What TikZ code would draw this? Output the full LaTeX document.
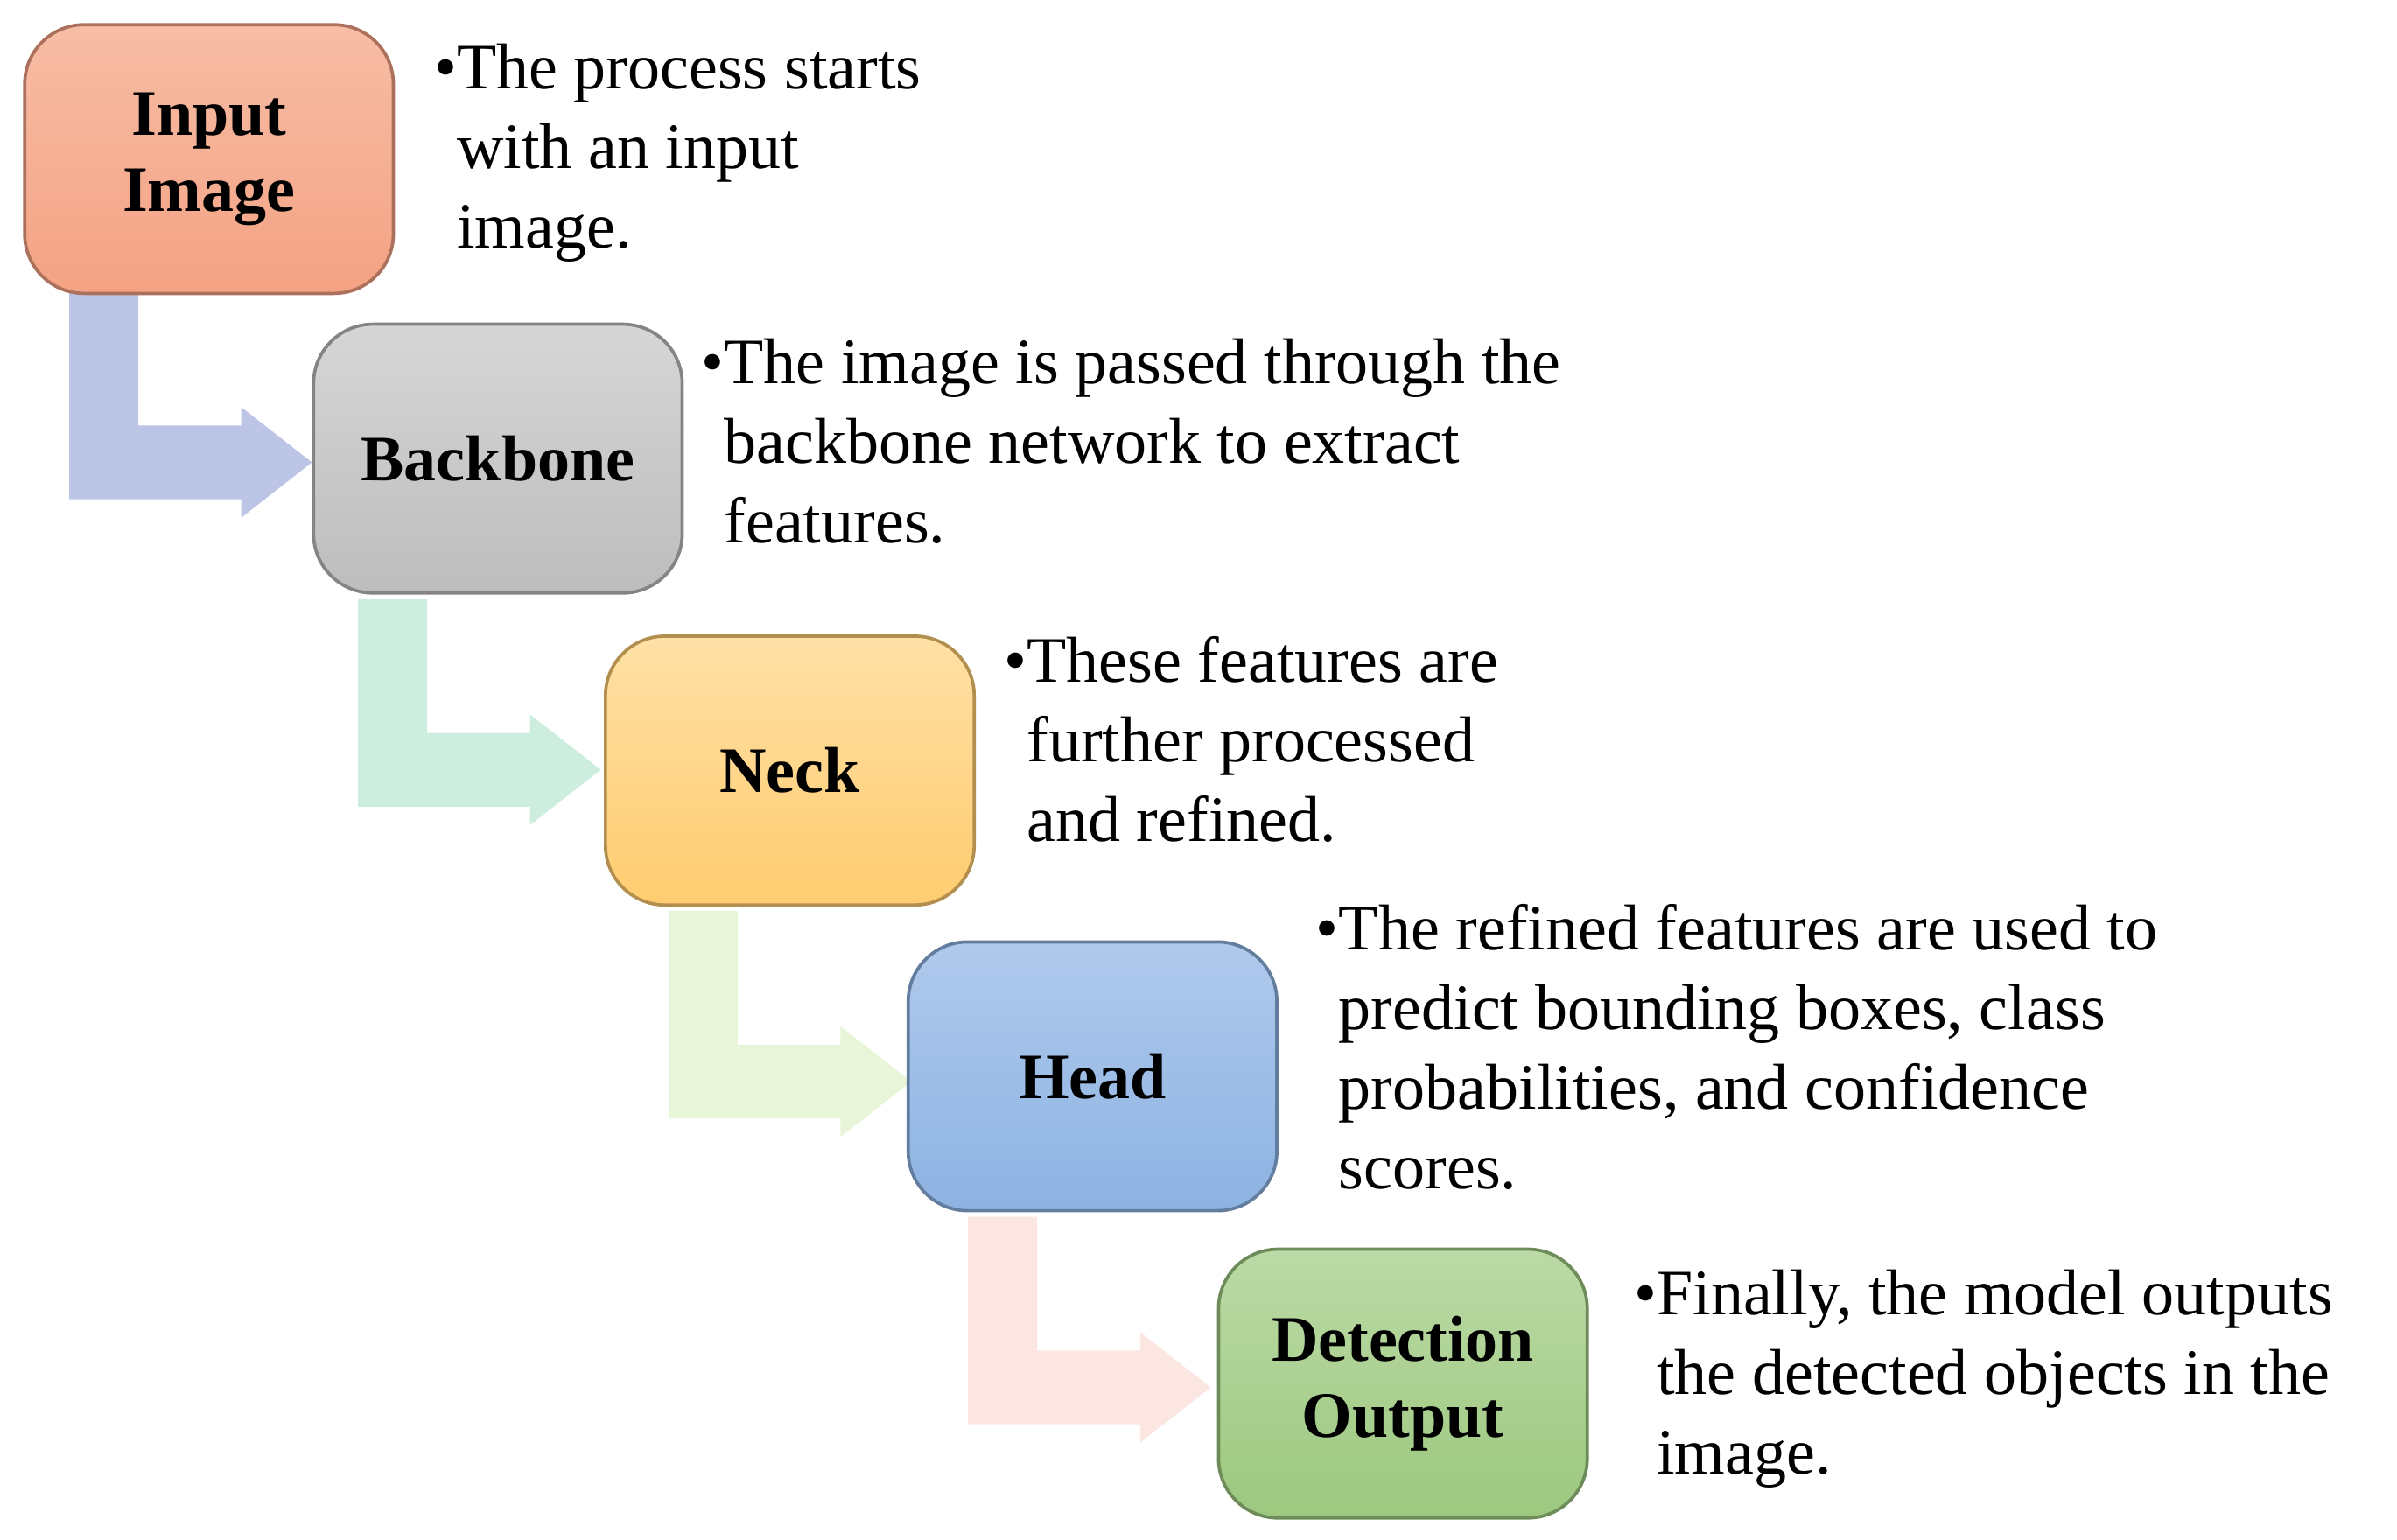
\documentclass[tikz,border=0pt]{standalone}
\usepackage{fontspec}
\setmainfont{Liberation Serif}
\begin{document}
\begin{tikzpicture}[x=0.02cm,y=-0.02cm,
 box/.style={draw=#1!70!black,line width=1.2pt,rounded corners=22pt,minimum width=4.8cm,minimum height=3.5cm,anchor=north west,align=center,font=\fontsize{24}{28}\selectfont\bfseries,inner sep=0pt},
 txt/.style={anchor=north west,align=left,inner sep=0pt,font=\fontsize{24}{29.5}\selectfont}]
\useasboundingbox (0,0) rectangle (1560,1002);
\definecolor{c1}{HTML}{F4A283}\definecolor{c1t}{HTML}{F7BDA5}
\definecolor{c2}{HTML}{BDBDBD}\definecolor{c2t}{HTML}{D6D6D6}
\definecolor{c3}{HTML}{FFCC70}\definecolor{c3t}{HTML}{FFE0A6}
\definecolor{c4}{HTML}{8DB3E2}\definecolor{c4t}{HTML}{AFC9EC}
\definecolor{c5}{HTML}{9CC87F}\definecolor{c5t}{HTML}{BCDAA6}
\definecolor{a1}{HTML}{BCC5E6}\definecolor{a2}{HTML}{CDEEDF}
\definecolor{a3}{HTML}{E8F5D8}\definecolor{a4}{HTML}{FBE6E2}
\newcommand\bentarr[3]{\fill[#1,shift={(#2,#3)}] (0,0)--(45,0)--(45,87)--(112,87)--(112,75)--(158,111)--(112,147)--(112,135)--(0,135)--cycle;}
\bentarr{a1}{45}{190}
\bentarr{a2}{233}{390}
\bentarr{a3}{435}{593}
\bentarr{a4}{630}{792}
\node[box=c1,top color=c1t,bottom color=c1] (in) at (15,15) {Input\\Image};
\node[box=c2,top color=c2t,bottom color=c2] (bb) at (203,210) {Backbone};
\node[box=c3,top color=c3t,bottom color=c3] (nk) at (393,413) {Neck};
\node[box=c4,top color=c4t,bottom color=c4] (hd) at (590,612) {Head};
\node[box=c5,top color=c5t,bottom color=c5] (do) at (792,812) {Detection\\Output};
\node[txt] (t1) at (297,28) {\llap{•}The process starts\\with an input\\image.};
\node[txt] (t2) at (471,220) {\llap{•}The image is passed through the\\backbone network to extract\\features.};
\node[txt] (t3) at (668,414) {\llap{•}These features are\\further processed\\and refined.};
\node[txt] (t4) at (871,588) {\llap{•}The refined features are used to\\predict bounding boxes, class\\probabilities, and confidence\\scores.};
\node[txt] (t5) at (1078,826) {\llap{•}Finally, the model outputs\\the detected objects in the\\image.};
\end{tikzpicture}
\end{document}
